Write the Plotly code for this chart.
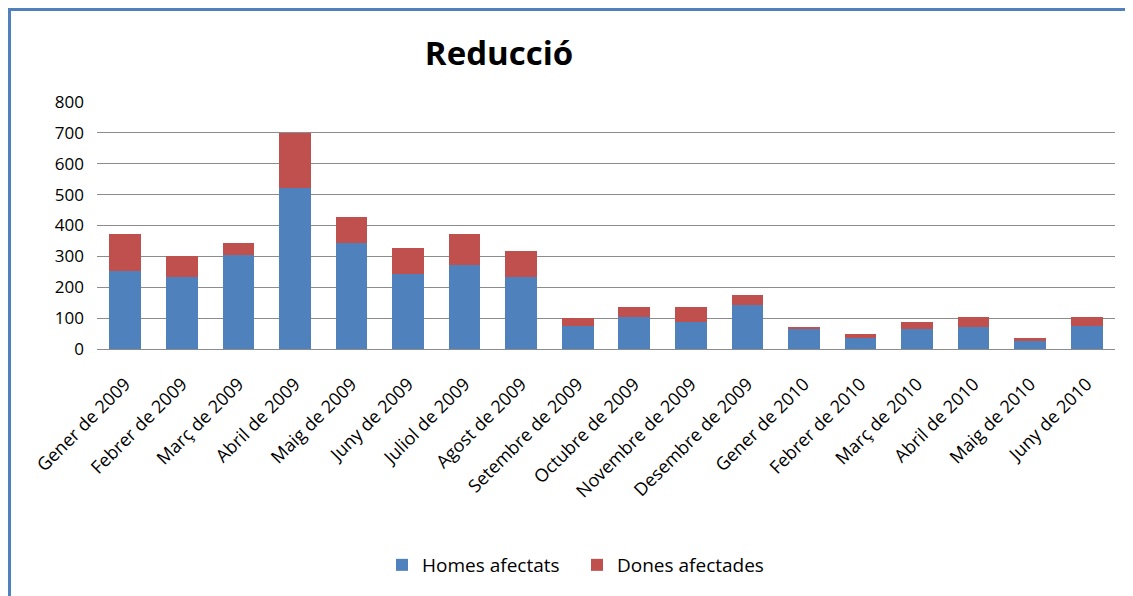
import plotly.graph_objects as go

categories = ["Gener de 2009", "Febrer de 2009", "Març de 2009", "Abril de 2009",
              "Maig de 2009", "Juny de 2009", "Juliol de 2009", "Agost de 2009",
              "Setembre de 2009", "Octubre de 2009", "Novembre de 2009", "Desembre de 2009",
              "Gener de 2010", "Febrer de 2010", "Març de 2010", "Abril de 2010",
              "Maig de 2010", "Juny de 2010"]
homes = [254, 232, 305, 523, 344, 243, 271, 232, 76, 103, 86, 143, 65, 36, 65, 70, 25, 76]
dones = [118, 68, 39, 177, 84, 83, 101, 85, 23, 34, 51, 33, 5, 12, 23, 33, 11, 27]
y_ticks = [0, 100, 200, 300, 400, 500, 600, 700, 800]

FONT = "Open Sans"
W, H = 1133, 596
L, R, T, B = 89, 26, 94, 255
PW, PH = W - L - R, H - T - B

fig = go.Figure()
fig.add_trace(go.Bar(x=categories, y=homes, name="Homes afectats",
                     marker=dict(color="#4F81BD", line=dict(width=0))))
fig.add_trace(go.Bar(x=categories, y=dones, name="Dones afectades",
                     marker=dict(color="#C0504D", line=dict(width=0))))

fig.update_layout(
    barmode="stack",
    bargap=0.44,
    width=W, height=H,
    margin=dict(l=L, r=R, t=T, b=B),
    paper_bgcolor="white", plot_bgcolor="white",
    font=dict(family=FONT, size=16, color="black"),
    title=dict(text="<b>Reducció</b>", x=491 / W, xanchor="center",
               y=1 - 45 / H, yanchor="middle",
               font=dict(family=FONT, size=33, color="black")),
    legend=dict(orientation="h", x=(569 - L) / PW, xanchor="center",
                y=(PH + T - 557) / PH, yanchor="middle",
                font=dict(family=FONT, size=19), traceorder="normal",
                itemwidth=30, entrywidth=150),
    showlegend=True,
)
fig.update_xaxes(tickangle=-45, showgrid=False, showline=False, ticks="",
                 ticklabelstandoff=20,
                 tickfont=dict(family=FONT, size=18))
fig.update_yaxes(range=[0, 800], tickvals=y_ticks, showgrid=True,
                 gridcolor="#8C8C8C", gridwidth=1, zeroline=True,
                 zerolinecolor="#8C8C8C", zerolinewidth=1, showline=False,
                 ticks="", ticklabelstandoff=12,
                 tickfont=dict(family=FONT, size=17))

fig.add_shape(type="rect", xref="paper", yref="paper",
              x0=(-L + 1.5) / PW, x1=1.2, y0=-1.2, y1=1 + (T - 1.5) / PH,
              line=dict(color="#4F81BD", width=3), layer="above")

fig.write_html("out.html")
